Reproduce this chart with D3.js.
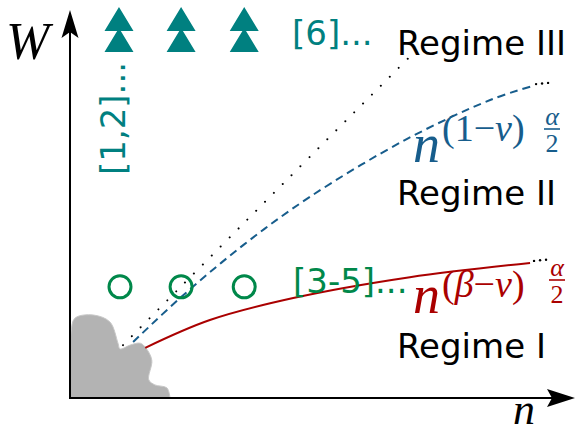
<!DOCTYPE html>
<html>
<head>
<meta charset="utf-8">
<script src="https://cdn.jsdelivr.net/npm/d3@7"></script>
<style>
  body { margin: 0; background: #fff; }
  svg { display: block; }
</style>
</head>
<body>
<div id="canvas"></div>
<script>
// DATA (n, W in arbitrary units)
const linearCurve = [[1.05, 1.37], [3.86, 5.08], [6.85, 9.0]];
const regime2Curve = [[1.25, 1.45], [2.18, 2.59], [3.43, 3.96], [4.75, 5.21], [6.63, 6.68], [8.32, 7.72], [9.15, 8.08]];
const regime1Curve = [[1.49, 1.30], [2.77, 2.02], [4.42, 2.59], [6.73, 3.13], [9.11, 3.50]];
const triangleRefs = [0.97, 2.20, 3.45];
const triangleLevel = 9.56;
const circleRefs = [0.99, 2.20, 3.45];
const circleLevel = 2.88;
const blob = [[0, 0], [0, 0.9], [0.02, 1.71], [0.1, 2.07], [0.46, 2.15], [0.79, 1.97], [0.95, 1.42], [0.99, 1.27],
  [1.19, 1.37], [1.39, 1.42], [1.5, 1.3], [1.62, 0.98], [1.56, 0.47], [1.68, 0.34], [1.92, 0.26],
  [1.98, 0]];
const regimeLabels = ["Regime III", "Regime II", "Regime I"];

// DIMENSIONS
const width = 575;
const height = 435;

const x = d3.scaleLinear().domain([0, 10]).range([70, 575]);
const y = d3.scaleLinear().domain([0, 10]).range([398, 12]);

const teal = "#008080";
const green = "#00884a";
const blue = "#175d8c";
const red = "#aa0000";

const svg = d3.select("#canvas")
  .append("svg")
  .attr("width", width)
  .attr("height", height);

// BLOB
svg.append("path")
  .attr("d", d3.line().x(d => x(d[0])).y(d => y(d[1])).curve(d3.curveCatmullRom.alpha(0.5))(blob) + "Z")
  .attr("fill", "#b3b3b3")
  .attr("stroke", "#c8c8c8")
  .attr("stroke-width", 1);

// CURVES
const line = d3.line().x(d => x(d[0])).y(d => y(d[1])).curve(d3.curveCatmullRom.alpha(0.5));

svg.append("path")
  .datum(linearCurve)
  .attr("d", line)
  .attr("fill", "none")
  .attr("stroke", "#000")
  .attr("stroke-width", 2)
  .attr("stroke-linecap", "round")
  .attr("stroke-dasharray", "0.01,12.6");

svg.append("path")
  .datum(regime2Curve)
  .attr("d", line)
  .attr("fill", "none")
  .attr("stroke", blue)
  .attr("stroke-width", 2)
  .attr("stroke-dasharray", "8,5");

svg.append("path")
  .datum(regime1Curve)
  .attr("d", line)
  .attr("fill", "none")
  .attr("stroke", red)
  .attr("stroke-width", 2);

// trailing dots
[regime2Curve, regime1Curve].forEach(c => {
  const last = c[c.length - 1];
  [4, 10, 16].forEach((dx, i) => {
    svg.append("circle")
      .attr("cx", x(last[0]) + dx)
      .attr("cy", y(last[1]) - 2 - i * 0.6)
      .attr("r", 1.2)
      .attr("fill", "#000");
  });
});

// AXES
svg.append("line")
  .attr("x1", x(0)).attr("y1", y(0) + 1)
  .attr("x2", x(0)).attr("y2", y(10) + 20)
  .attr("stroke", "#000").attr("stroke-width", 2);
svg.append("line")
  .attr("x1", x(0) - 1).attr("y1", y(0))
  .attr("x2", x(10) - 22).attr("y2", y(0))
  .attr("stroke", "#000").attr("stroke-width", 2);

svg.append("path")
  .attr("d", `M${x(0)},${y(10) - 2} L${x(0) + 8.5},${y(10) + 26} L${x(0)},${y(10) + 20} L${x(0) - 8.5},${y(10) + 26} Z`)
  .attr("fill", "#000");
svg.append("path")
  .attr("d", `M${x(10)},${y(0)} L${x(10) - 28},${y(0) - 9} L${x(10) - 23},${y(0)} L${x(10) - 28},${y(0) + 9} Z`)
  .attr("fill", "#000");

// MARKERS
svg.selectAll(".tri")
  .data(triangleRefs)
  .join("path")
  .attr("class", "tri")
  .attr("transform", d => `translate(${x(d)},${y(triangleLevel)})`)
  .attr("d", "M0,-22 L14.5,2 L-14.5,2 Z M0,-1 L14.5,23 L-14.5,23 Z")
  .attr("fill", teal);

svg.selectAll(".circ")
  .data(circleRefs)
  .join("circle")
  .attr("class", "circ")
  .attr("cx", d => x(d))
  .attr("cy", y(circleLevel))
  .attr("r", 11)
  .attr("fill", "none")
  .attr("stroke", green)
  .attr("stroke-width", 3);

// LABELS
const sans = "'DejaVu Sans', sans-serif";
const serif = "'Liberation Serif', 'DejaVu Serif', serif";

svg.selectAll(".regime")
  .data(regimeLabels)
  .join("text")
  .attr("class", "regime")
  .attr("x", 397)
  .attr("y", (d, i) => [55, 205, 358][i])
  .attr("font-family", sans)
  .attr("font-size", 34)
  .attr("fill", "#000")
  .text(d => d);

svg.append("text")
  .attr("x", 292).attr("y", 45)
  .attr("font-family", sans).attr("font-size", 34)
  .attr("fill", teal)
  .text("[6]...");

svg.append("text")
  .attr("x", 293).attr("y", 293)
  .attr("font-family", sans).attr("font-size", 34)
  .attr("fill", green)
  .text("[3-5]...");

svg.append("text")
  .attr("transform", "translate(125,175) rotate(-90)")
  .attr("font-family", sans).attr("font-size", 34)
  .attr("fill", teal)
  .text("[1,2]...");

// axis names
svg.append("text")
  .attr("x", 6).attr("y", 59)
  .attr("font-family", serif).attr("font-style", "italic").attr("font-size", 52)
  .text("W");
svg.append("text")
  .attr("x", 513).attr("y", 424)
  .attr("font-family", serif).attr("font-style", "italic").attr("font-size", 44)
  .text("n");

// power-law labels
function powerLabel(px, py, sup, color, supDy, fx) {
  const g = svg.append("g").attr("fill", color).attr("font-family", serif);
  g.append("text")
    .attr("x", px).attr("y", py)
    .attr("font-style", "italic").attr("font-size", 54)
    .text("n");
  const t = g.append("text")
    .attr("x", px + 29).attr("y", py - supDy)
    .attr("font-size", 38);
  sup.forEach(s => t.append("tspan").attr("font-style", s[1] ? "italic" : "normal").text(s[0]));
  g.append("text")
    .attr("x", fx).attr("y", py - 37)
    .attr("text-anchor", "middle")
    .attr("font-style", "italic").attr("font-size", 26)
    .text("α");
  g.append("line")
    .attr("x1", fx - 8).attr("x2", fx + 8)
    .attr("y1", py - 33).attr("y2", py - 33)
    .attr("stroke", color).attr("stroke-width", 1.6);
  g.append("text")
    .attr("x", fx).attr("y", py - 10)
    .attr("text-anchor", "middle")
    .attr("font-size", 26)
    .text("2");
}

powerLabel(413, 162, [["(", 0], ["1", 0], ["−", 0], ["ν", 1], [")", 0]], blue, 21, 552);
powerLabel(413, 313, [["(", 0], ["β", 1], ["−", 0], ["ν", 1], [")", 0]], red, 16, 557);
</script>
</body>
</html>
